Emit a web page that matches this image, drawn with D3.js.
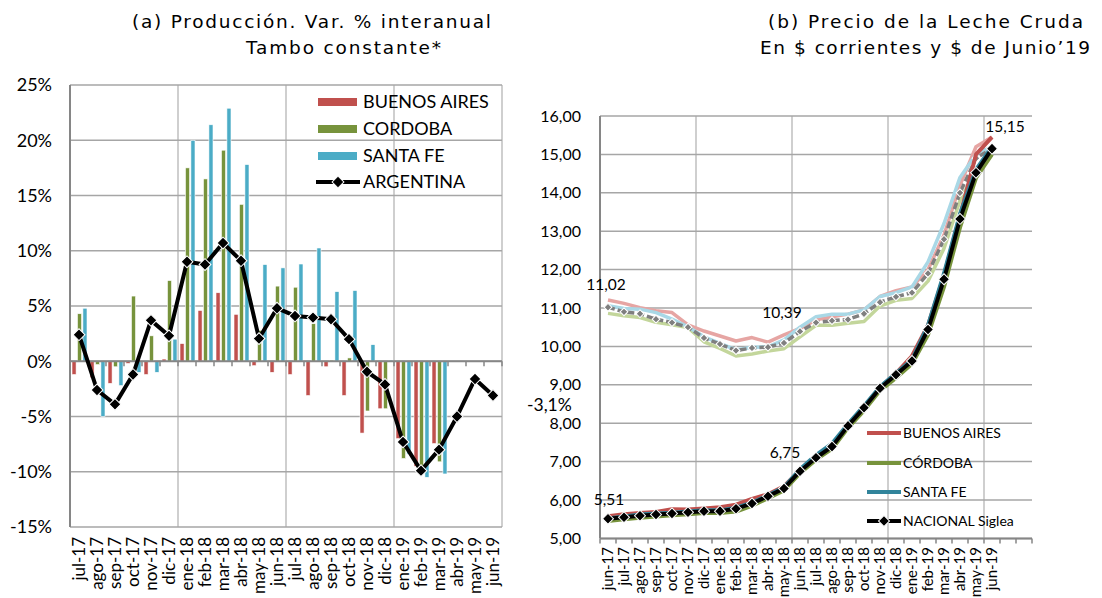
<!DOCTYPE html>
<html><head><meta charset="utf-8">
<script src="https://cdn.jsdelivr.net/npm/d3@7"></script>
<style>body{margin:0;background:#fff;} svg{display:block;}</style>
</head><body>
<svg id="c" width="1102" height="598"></svg>
<script>
// ---------- Data: left chart (a) ----------
const prodMonths = ["jul-17","ago-17","sep-17","oct-17","nov-17","dic-17","ene-18","feb-18","mar-18","abr-18","may-18","jun-18","jul-18","ago-18","sep-18","oct-18","nov-18","dic-18","ene-19","feb-19","mar-19","abr-19","may-19","jun-19"];
const prodBA  = [-1.2,-1.5,-2.0,-0.2,-1.2,0.2,1.6,4.6,6.2,4.25,-0.4,-1.0,-1.2,-3.1,-0.5,-3.1,-6.5,-4.3,-7.0,-9.5,-7.45,null,null,null];
const prodCB  = [4.3,-0.3,-0.5,5.9,2.3,7.3,17.5,16.5,19.1,14.2,2.8,6.8,6.7,3.4,0.1,0.3,-4.5,-4.3,-8.8,-9.8,-9.1,null,null,null];
const prodSF  = [4.8,-5.0,-2.2,-1.0,-1.0,2.0,20.0,21.4,22.9,17.8,8.75,8.45,8.8,10.25,6.3,6.4,1.5,0.1,-8.4,-10.5,-10.2,null,null,null];
const prodARG = [2.4,-2.6,-3.9,-1.2,3.7,2.3,9.0,8.75,10.7,9.1,2.05,4.8,4.1,3.95,3.8,2.0,-0.95,-2.1,-7.3,-9.9,-8.0,-5.0,-1.6,-3.1];
const prodTicks = [-15,-10,-5,0,5,10,15,20,25];
const prodNames = ["BUENOS AIRES","CORDOBA","SANTA FE","ARGENTINA"];

// ---------- Data: right chart (b) ----------
const priceMonths = ["jun-17","jul-17","ago-17","sep-17","oct-17","nov-17","dic-17","ene-18","feb-18","mar-18","abr-18","may-18","jun-18","jul-18","ago-18","sep-18","oct-18","nov-18","dic-18","ene-19","feb-19","mar-19","abr-19","may-19","jun-19"];
const priceBlank = ["_a","_b"];
// current $
const curBA  = [5.58,5.63,5.66,5.69,5.76,5.75,5.78,5.81,5.88,6.03,6.15,6.36,6.77,7.13,7.42,7.96,8.42,8.93,9.30,9.75,10.55,11.85,13.40,15.00,15.45];
const curCB  = [5.45,5.50,5.54,5.57,5.60,5.63,5.66,5.66,5.70,5.85,6.05,6.25,6.70,7.05,7.33,7.88,8.33,8.85,9.18,9.55,10.30,11.55,13.10,14.39,15.00];
const curSF  = [5.52,5.57,5.62,5.65,5.67,5.70,5.73,5.73,5.80,5.93,6.12,6.33,6.80,7.17,7.47,7.98,8.45,8.95,9.30,9.65,10.55,11.90,13.45,14.60,15.20];
const curNAC = [5.51,5.55,5.59,5.62,5.65,5.68,5.71,5.71,5.77,5.91,6.10,6.30,6.75,7.10,7.39,7.93,8.40,8.91,9.26,9.62,10.44,11.75,13.32,14.52,15.15];
// $ of June'19
const realBA  = [11.21,11.12,11.01,10.93,10.88,10.56,10.40,10.27,10.14,10.23,10.11,10.30,10.47,10.69,10.77,10.84,10.95,11.30,11.45,11.55,12.00,12.90,14.20,15.20,15.45];
const realCB  = [10.86,10.80,10.75,10.63,10.56,10.49,10.12,9.95,9.75,9.80,9.88,9.94,10.25,10.55,10.55,10.60,10.65,11.05,11.20,11.25,11.70,12.55,13.80,14.60,15.00];
const realSF  = [11.06,10.99,10.97,10.88,10.71,10.51,10.25,10.08,9.91,9.98,9.99,10.17,10.50,10.77,10.84,10.84,10.95,11.30,11.40,11.55,12.20,13.20,14.40,15.00,15.20];
const realNAC = [11.02,10.90,10.85,10.71,10.62,10.50,10.22,10.06,9.89,9.96,9.98,10.09,10.39,10.62,10.67,10.70,10.85,11.15,11.29,11.40,11.90,12.79,14.00,14.90,15.15];
const priceTicks = [5,6,7,8,9,10,11,12,13,14,15,16];
const priceNames = ["BUENOS AIRES","CÓRDOBA","SANTA FE","NACIONAL Siglea"];

const svg = d3.select("#c");
const LBL = "Lato, 'DejaVu Sans', sans-serif";
const TTL = "'DejaVu Sans', Verdana, sans-serif";
const cRed = "#C0504D", cGreen = "#77933C", cBlue = "#4BACC6", cTeal = "#31849B";

// ---------- Titles ----------
const titles = [
  {t:"(a) Producción. Var. % interanual", x:132, y:28, w:359},
  {t:"Tambo constante*", x:246, y:54, w:195},
  {t:"(b) Precio de la Leche Cruda", x:768, y:28, w:315},
  {t:"En $ corrientes y $ de Junio\u201919", x:760, y:54, w:330}
];
svg.selectAll("text.title").data(titles).join("text")
  .attr("class","title").attr("x",d=>d.x).attr("y",d=>d.y)
  .attr("text-anchor","start").attr("font-family",TTL).attr("font-size",18.5).attr("fill","#000")
  .attr("textLength",d=>d.w).attr("lengthAdjust","spacing")
  .text(d=>d.t);

// ---------- Left chart ----------
{
  const x0 = d3.scaleBand().domain(prodMonths).range([70,502]);
  const x1 = d3.scaleBand().domain([0,1,2]).range([2,17]).paddingInner(0.25);
  const y = d3.scaleLinear().domain([-15,25]).range([527,85]);
  const g = svg.append("g");
  const vIdx = [6,12,18,24];
  g.selectAll("line.vg").data(vIdx).join("line")
    .attr("x1",i=>70+i*x0.step()).attr("x2",i=>70+i*x0.step())
    .attr("y1",y(25)).attr("y2",y(-15)).attr("stroke","#bfbfbf").attr("stroke-width",1.5);
  g.selectAll("line.hg").data(prodTicks).join("line")
    .attr("x1",70).attr("x2",502).attr("y1",d=>y(d)).attr("y2",d=>y(d))
    .attr("stroke","#a6a6a6").attr("stroke-width",1.5);
  g.selectAll("text.yl").data(prodTicks).join("text")
    .attr("x",52).attr("y",d=>y(d)).attr("dy","0.35em").attr("text-anchor","end")
    .attr("font-family",LBL).attr("font-size",18).text(d=>d+"%");
  const series = [prodBA, prodCB, prodSF];
  const cols = [cRed, cGreen, cBlue];
  series.forEach((s,si)=>{
    g.selectAll(null).data(s.map((v,i)=>({v,m:prodMonths[i]})).filter(d=>d.v!==null)).join("rect")
      .attr("x",d=>x0(d.m)+x1(si)).attr("width",x1.bandwidth())
      .attr("y",d=>Math.min(y(d.v),y(0))).attr("height",d=>Math.abs(y(d.v)-y(0)))
      .attr("fill",cols[si]).attr("stroke","#fff").attr("stroke-width",0.6);
  });
  g.append("line").attr("x1",70).attr("x2",70).attr("y1",y(25)).attr("y2",y(-15)).attr("stroke","#868686").attr("stroke-width",2);
  g.append("line").attr("x1",70).attr("x2",502).attr("y1",y(0)).attr("y2",y(0)).attr("stroke","#868686").attr("stroke-width",2);
  g.selectAll("line.tk").data(d3.range(25)).join("line")
    .attr("x1",i=>70+i*x0.step()).attr("x2",i=>70+i*x0.step())
    .attr("y1",y(0)).attr("y2",y(0)+5).attr("stroke","#868686").attr("stroke-width",1.5);
  const cx = m=>x0(m)+x0.step()/2;
  const pts = prodARG.map((v,i)=>({v,m:prodMonths[i]}));
  g.append("path").datum(pts)
    .attr("d",d3.line().x(d=>cx(d.m)).y(d=>y(d.v)))
    .attr("fill","none").attr("stroke","#000").attr("stroke-width",4).attr("stroke-linejoin","round");
  const dia = d3.symbol().type(d3.symbolSquare).size(70);
  g.selectAll("path.mk").data(pts).join("path")
    .attr("d",dia).attr("transform",d=>`translate(${cx(d.m)},${y(d.v)}) rotate(45)`)
    .attr("fill","#000").attr("stroke","#fff").attr("stroke-width",1);
  const last = pts[pts.length-1];
  g.append("text").attr("x",cx(last.m)+34).attr("y",y(last.v)+9).attr("dy","0.35em")
    .attr("font-family",LBL).attr("font-size",17.5).text("-3,1%");
  g.selectAll("text.xl").data(prodMonths).join("text")
    .attr("transform",m=>`translate(${cx(m)},537) rotate(-90)`).attr("dy","0.35em")
    .attr("text-anchor","end").attr("font-family",LBL).attr("font-size",17).text(m=>m);
  const lg = g.append("g");
  const ly = [102,129,156,182];
  [0,1,2].forEach(i=>{
    lg.append("rect").attr("x",318).attr("y",ly[i]-4).attr("width",39).attr("height",8).attr("fill",cols[i]);
  });
  lg.append("line").attr("x1",316).attr("x2",360).attr("y1",ly[3]).attr("y2",ly[3]).attr("stroke","#000").attr("stroke-width",4);
  lg.append("path").attr("d",dia).attr("transform",`translate(338,${ly[3]}) rotate(45)`).attr("fill","#000").attr("stroke","#fff");
  lg.selectAll("text").data(prodNames).join("text")
    .attr("x",363).attr("y",(d,i)=>ly[i]).attr("dy","0.35em")
    .attr("font-family",LBL).attr("font-size",18).text(d=>d);
}

// ---------- Right chart ----------
{
  const xr = d3.scaleBand().domain(priceMonths.concat(priceBlank)).range([600,1032]);
  const y = d3.scaleLinear().domain([5,16]).range([538.4,116]);
  const g = svg.append("g");
  const cx = m=>xr(m)+xr.step()/2;
  g.selectAll("line.vg").data([6,12,18,24]).join("line")
    .attr("x1",i=>600+i*xr.step()).attr("x2",i=>600+i*xr.step())
    .attr("y1",y(16)).attr("y2",y(5)).attr("stroke","#bfbfbf").attr("stroke-width",1.5);
  g.selectAll("line.hg").data(priceTicks).join("line")
    .attr("x1",600).attr("x2",1032).attr("y1",d=>y(d)).attr("y2",d=>y(d))
    .attr("stroke","#a6a6a6").attr("stroke-width",1.5);
  g.selectAll("text.yl").data(priceTicks).join("text")
    .attr("x",581).attr("y",d=>y(d)).attr("dy","0.35em").attr("text-anchor","end")
    .attr("font-family",LBL).attr("font-size",16).text(d=>d3.format(".2f")(d).replace(".",","));
  g.append("line").attr("x1",600).attr("x2",600).attr("y1",y(16)).attr("y2",y(5)).attr("stroke","#868686").attr("stroke-width",2);
  g.append("line").attr("x1",600).attr("x2",1032).attr("y1",y(5)).attr("y2",y(5)).attr("stroke","#868686").attr("stroke-width",2);
  g.selectAll("line.tk").data(d3.range(28)).join("line")
    .attr("x1",i=>600+i*xr.step()).attr("x2",i=>600+i*xr.step())
    .attr("y1",y(5)).attr("y2",y(5)+5).attr("stroke","#868686").attr("stroke-width",1.5);
  g.selectAll("text.xl").data(priceMonths).join("text")
    .attr("transform",m=>`translate(${cx(m)},547) rotate(-90)`).attr("dy","0.35em")
    .attr("text-anchor","end").attr("font-family",LBL).attr("font-size",15).text(m=>m);

  const line = d3.line().x((d,i)=>cx(priceMonths[i])).y(d=>y(d));
  const draw = (arr,col,w,dash)=>g.append("path").attr("d",line(arr)).attr("fill","none")
      .attr("stroke",col).attr("stroke-width",w).attr("stroke-linejoin","round")
      .attr("stroke-dasharray",dash||null);
  draw(realCB,"#C3D69B",3.5);
  draw(realBA,"#E6A5A3",3.5);
  draw(realSF,"#A9D8E6",3.5);
  draw(realNAC,"#7f7f7f",3.5,"7,3");
  const sdia = d3.symbol().type(d3.symbolSquare).size(30);
  g.selectAll(null).data(realNAC).join("path").attr("d",sdia)
    .attr("transform",(d,i)=>`translate(${cx(priceMonths[i])},${y(d)}) rotate(45)`)
    .attr("fill","#7f7f7f").attr("stroke","#fff").attr("stroke-width",1);
  draw(curCB,cGreen,4);
  draw(curBA,cRed,4);
  draw(curSF,cTeal,4);
  draw(curNAC,"#000",4);
  const dia = d3.symbol().type(d3.symbolSquare).size(60);
  g.selectAll(null).data(curNAC).join("path").attr("d",dia)
    .attr("transform",(d,i)=>`translate(${cx(priceMonths[i])},${y(d)}) rotate(45)`)
    .attr("fill","#000").attr("stroke","#fff").attr("stroke-width",1);
  const labs = [
    {i:0, v:realNAC[0], dx:-2, dy:-23},
    {i:12, v:realNAC[12], dx:-18, dy:-19},
    {i:0, v:curNAC[0], dx:1, dy:-19},
    {i:12, v:curNAC[12], dx:-15, dy:-19},
    {i:24, v:curNAC[24], dx:13, dy:-22}
  ];
  g.selectAll("text.dl").data(labs).join("text")
    .attr("x",d=>cx(priceMonths[d.i])+d.dx).attr("y",d=>y(d.v)+d.dy).attr("dy","0.35em")
    .attr("text-anchor","middle").attr("font-family",LBL).attr("font-size",15.5)
    .text(d=>d3.format(".2f")(d.v).replace(".",","));
  const ly = [433,463,492,521];
  const lc = [cRed,cGreen,cTeal,"#000"];
  ly.forEach((yy,i)=>{
    g.append("line").attr("x1",867).attr("x2",901).attr("y1",yy).attr("y2",yy).attr("stroke",lc[i]).attr("stroke-width",4);
  });
  g.append("path").attr("d",dia).attr("transform",`translate(884,${ly[3]}) rotate(45)`).attr("fill","#000").attr("stroke","#fff");
  g.selectAll("text.lg").data(priceNames).join("text")
    .attr("x",903).attr("y",(d,i)=>ly[i]).attr("dy","0.35em")
    .attr("font-family",LBL).attr("font-size",14).text(d=>d);
}
</script>
</body></html>
